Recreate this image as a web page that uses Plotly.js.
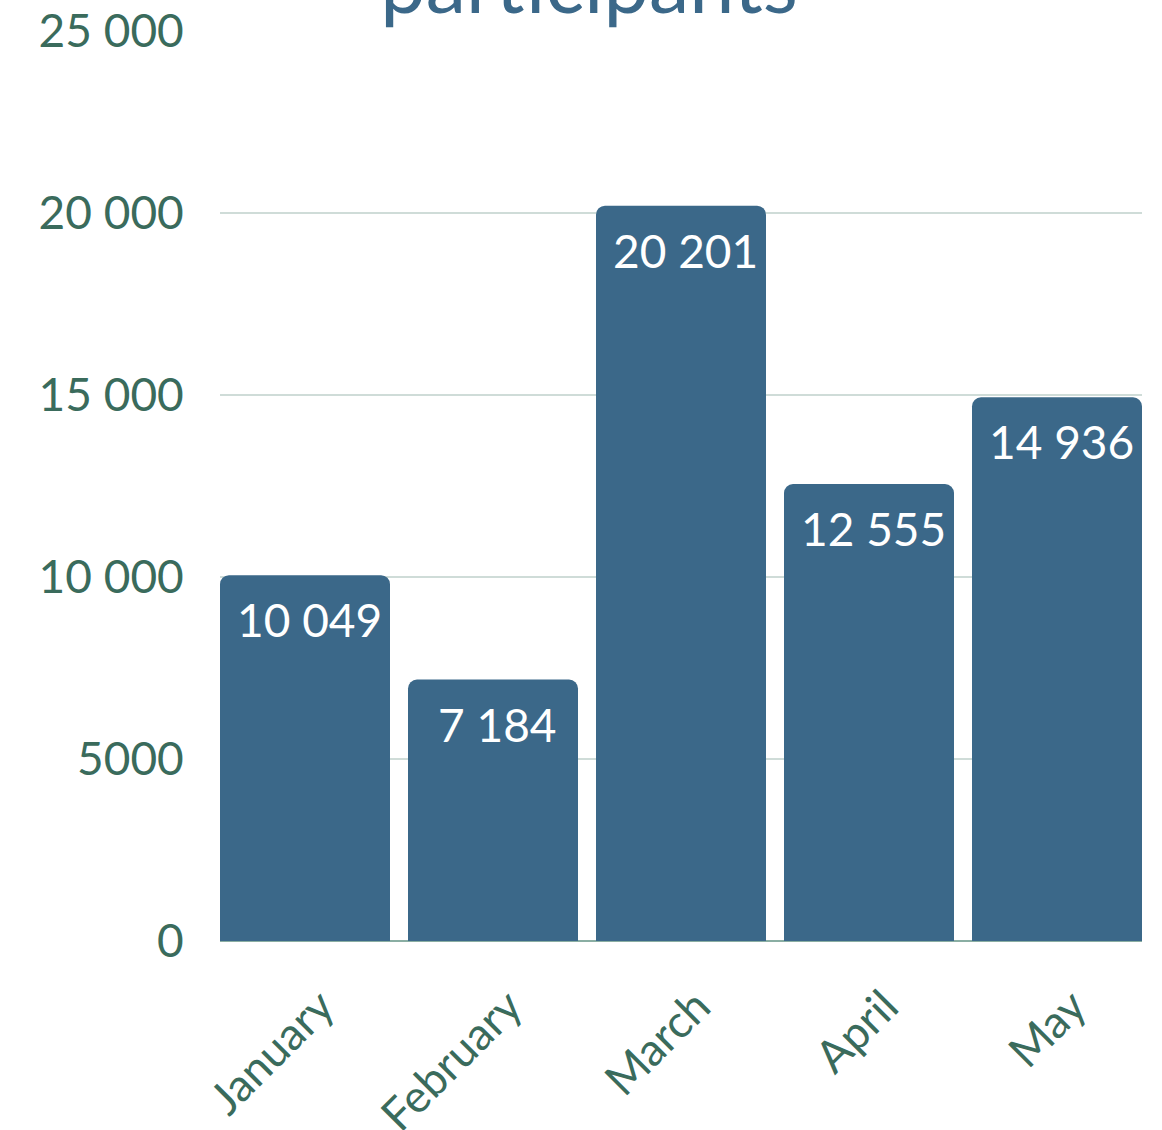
<!DOCTYPE html>
<html>
<head>
<meta charset="utf-8">
<script src="https://cdn.plot.ly/plotly-3.0.1.min.js"></script>
<style>html,body{margin:0;padding:0;background:#fff;}#chart{width:1162px;height:1130px;}</style>
</head>
<body>
<div id="chart"></div>
<script>
const months = ["January", "February", "March", "April", "May"];
const participants = [10049, 7184, 20201, 12555, 14936];
const titleText = "participants";
const yTicks = [0, 5000, 10000, 15000, 20000, 25000];

function fmt(v) {
  return String(v).replace(/\B(?=(\d{3})+(?!\d))/g, " ");
}

const trace = {
  type: "bar",
  x: months,
  y: participants,
  marker: {color: "#3b6889", cornerradius: 9},
  hoverinfo: "none"
};

const halfBar = 170 / 188 / 2;

const annotations = months.map((m, i) => ({
  x: m,
  y: participants[i],
  xref: "x",
  yref: "y",
  text: fmt(participants[i]),
  showarrow: false,
  xanchor: "center",
  yanchor: "top",
  xshift: 4,
  yshift: -15,
  font: {family: "Lato", size: 46, color: "#ffffff"}
}));

const layout = {
  width: 1162,
  height: 1130,
  separators: ". ",
  margin: {l: 220, r: 20, t: 31, b: 189},
  paper_bgcolor: "#ffffff",
  plot_bgcolor: "#ffffff",
  font: {family: "Lato", color: "#3a6b5c"},
  bargap: 18 / 188,
  showlegend: false,
  annotations: annotations,
  title: {
    text: titleText,
    font: {family: "Lato", size: 81, color: "#3b6889"},
    xref: "container", x: 0.507, xanchor: "center",
    yref: "paper", y: 1, yanchor: "bottom",
    pad: {b: 18}
  },
  xaxis: {
    range: [-halfBar, months.length - 1 + halfBar],
    tickangle: -45,
    tickfont: {family: "Lato", size: 45, color: "#3a6b5c"},
    ticklabelshift: 16,
    showgrid: false,
    showline: false,
    zeroline: false,
    ticks: "outside", ticklen: 20, tickcolor: "rgba(0,0,0,0)"
  },
  yaxis: {
    range: [0, 25000],
    tickvals: yTicks,
    exponentformat: "none",
    tickfont: {family: "Lato", size: 46, color: "#3a6b5c"},
    gridcolor: "#cfdcd8",
    gridwidth: 2,
    zeroline: true,
    zerolinecolor: "#8aaea3",
    zerolinewidth: 2,
    showline: false,
    ticks: "outside", ticklen: 26, tickcolor: "rgba(0,0,0,0)"
  }
};

Plotly.newPlot("chart", [trace], layout, {displayModeBar: false});
</script>
</body>
</html>
